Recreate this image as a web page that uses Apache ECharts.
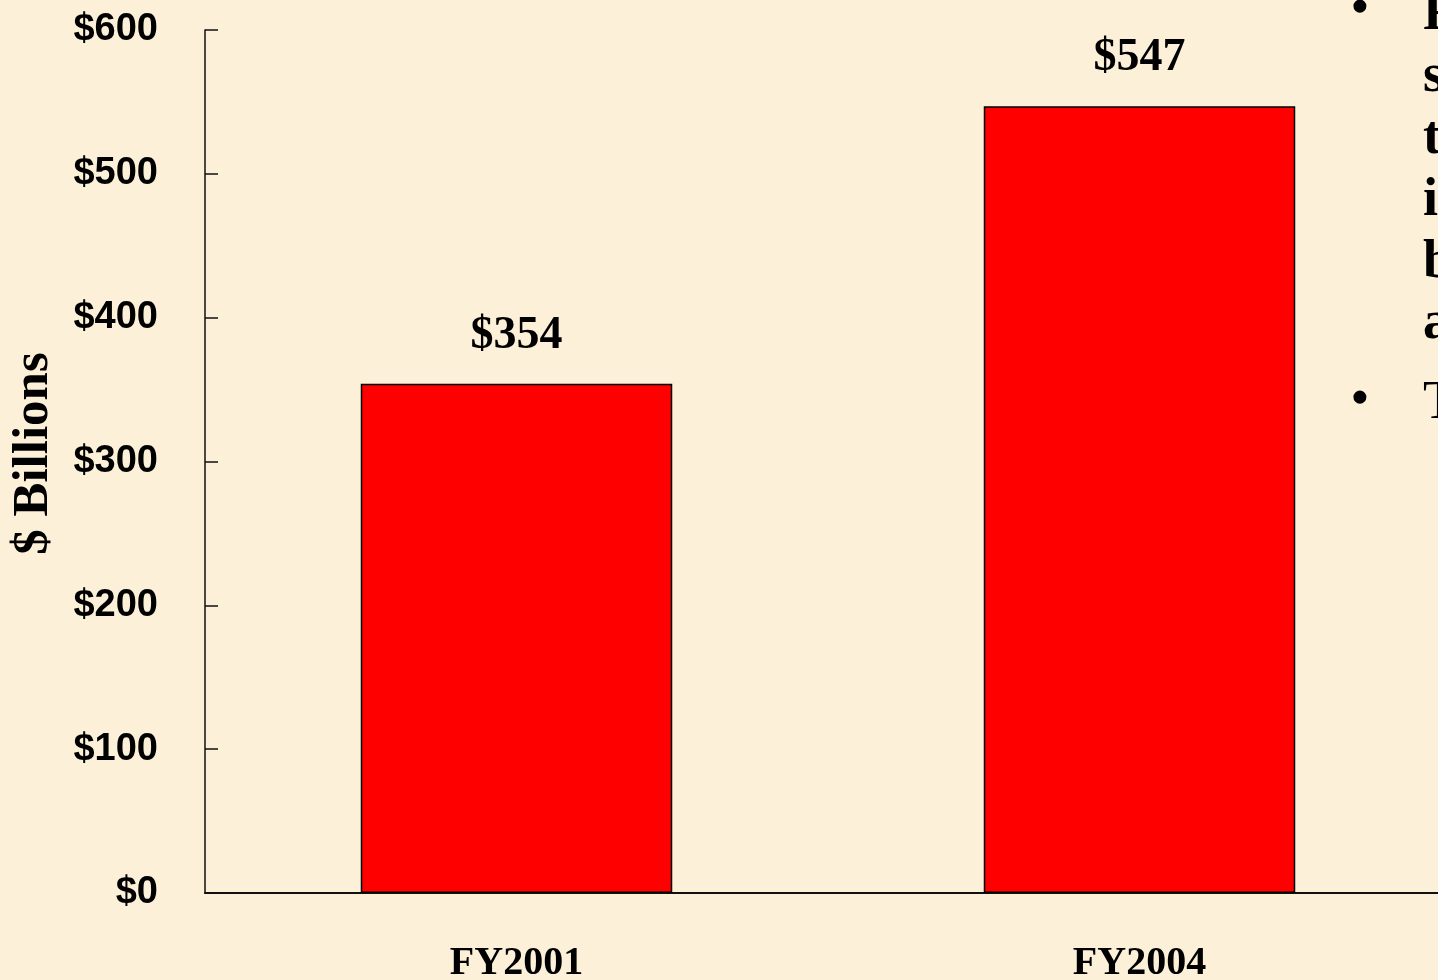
<!DOCTYPE html>
<html>
<head>
<meta charset="utf-8">
<script src="https://cdn.jsdelivr.net/npm/echarts@6/dist/echarts.min.js"></script>
<style>
  html, body { margin: 0; padding: 0; background: #fcf0d8; }
  #main1 { width: 1438px; height: 980px; }
</style>
</head>
<body>
<div id="main1"></div>
<script>
// data
const years = ['FY2001', 'FY2004'];
const spending = [354, 547];
const yTicks = [0, 100, 200, 300, 400, 500, 600];
// clipped bullet text at right edge of slide
const sideLines = ['F', 's', 't', 'i', 'b', 'a', 'T'];
const sideBaseline = [32, 94, 156, 218, 280, 341, 420];
const sideBold = [true, true, true, true, true, true, false];
const bulletY = [10, 401];

const serif = '"Liberation Serif", "Times New Roman", serif';

let graphicItems = [];
for (let i in sideLines) {
    graphicItems.push({
        type: 'text',
        x: 1423,
        y: sideBaseline[i] - 16.5,
        style: {
            text: sideLines[i],
            font: (sideBold[i] ? 'bold ' : '') + '54px ' + serif,
            fill: '#000',
            verticalAlign: 'middle'
        }
    });
}
for (let j in bulletY) {
    graphicItems.push({
        type: 'text',
        x: 1360,
        y: bulletY[j],
        style: {
            text: '\u2022',
            font: 'bold 48px ' + serif,
            fill: '#000',
            align: 'center',
            verticalAlign: 'middle'
        }
    });
}

let optionObj = {
    backgroundColor: '#fcf0d8',
    animation: false,
    grid: {
        left: 205,
        top: 30,
        bottom: 87,
        right: -13,
        containLabel: false,
        outerBoundsMode: 'none'
    },
    xAxis: {
        type: 'category',
        data: years,
        axisLine: { lineStyle: { color: '#111', width: 2 } },
        axisTick: { inside: true, length: 15, lineStyle: { color: '#222', width: 2 } },
        axisLabel: {
            margin: 51,
            color: '#000',
            fontFamily: serif,
            fontWeight: 'bold',
            fontSize: 40
        }
    },
    yAxis: {
        type: 'value',
        min: yTicks[0],
        max: yTicks[yTicks.length - 1],
        interval: 100,
        name: '$ Billions',
        nameLocation: 'middle',
        nameGap: 146,
        nameTextStyle: {
            color: '#000',
            fontFamily: serif,
            fontWeight: 'bold',
            fontSize: 51,
            padding: [0, 0, 0, 16]
        },
        axisLine: { show: true, lineStyle: { color: '#111', width: 1.5 } },
        axisTick: { show: true, inside: true, length: 13, lineStyle: { color: '#111', width: 1.5 } },
        splitLine: { show: false },
        axisLabel: {
            margin: 47,
            color: '#000',
            fontFamily: '"Liberation Sans", Arial, sans-serif',
            fontWeight: 'bold',
            fontSize: 38,
            formatter: v => '$' + v
        }
    },
    series: [
        {
            name: 'spending',
            type: 'bar',
            data: spending,
            barWidth: '50%',
            itemStyle: { color: '#ff0000', borderColor: '#000', borderWidth: 1.5 },
            label: {
                show: true,
                position: 'top',
                distance: 25,
                color: '#000',
                fontFamily: serif,
                fontWeight: 'bold',
                fontSize: 46,
                formatter: p => '$' + p.value
            }
        }
    ],
    graphic: graphicItems
};

function createGraph() {
    let chartDom = document.getElementById('main1');
    let myChart = echarts.init(chartDom);
    myChart.setOption(optionObj);
}

createGraph();
</script>
</body>
</html>
